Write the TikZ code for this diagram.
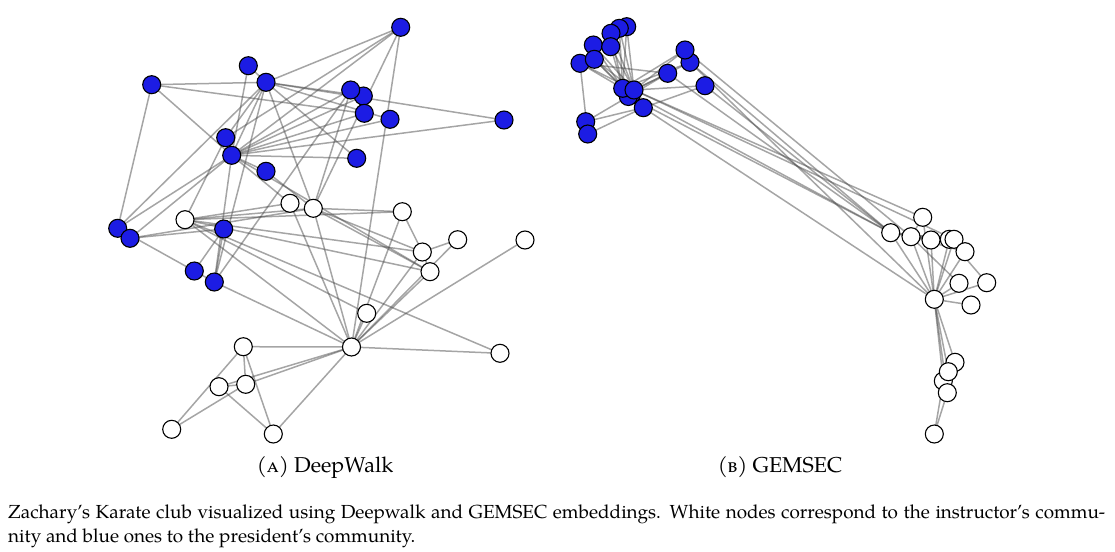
\documentclass[tikz,border=0pt]{standalone}
\usepackage{fontspec}
\setmainfont{TeX Gyre Pagella}
\usetikzlibrary{backgrounds}
\definecolor{nodeblue}{RGB}{28,28,228}
\begin{document}
\begin{tikzpicture}[x=1pt,y=-1pt,
  edge/.style={draw=black!70, line width=1.5pt, opacity=0.5},
  wn/.style={circle, draw=black, line width=1.1pt, fill=white, minimum size=18pt, inner sep=0pt},
  bn/.style={wn, fill=nodeblue},
  sublbl/.style={inner sep=0pt, font=\fontsize{21.5}{25}\selectfont},
  lbl/.style={inner sep=0pt, font=\fontsize{18.9}{23}\selectfont}]
\useasboundingbox (0,0) rectangle (1115,551);
% ---------- left graph (DeepWalk) ----------
\foreach \n/\x/\y in {1/351.5/347, 2/185/219.7, 3/313.3/208.3, 4/422.3/252, 5/219/386.7,
  6/243.3/346.7, 7/245.7/384.3, 8/402.3/211.7, 11/273.3/434, 12/525/240, 13/457.7/239.7,
  14/430/271.7, 17/171.7/429.3, 18/500/353.3, 20/290/203.3, 22/366.7/313.3}
  \node[wn] (L\n) at (\x,\y) {};
\foreach \n/\x/\y in {9/400.7/27.3, 10/266/171.3, 15/248.3/65.7, 16/363.3/96, 19/390/119.3,
  21/504/120, 23/356.7/158.3, 24/117.7/228.3, 25/223.7/229, 26/194.3/271, 27/364.3/113.3,
  28/130/238.3, 29/350.7/90, 30/151.7/84.7, 31/225.7/137.7, 32/214.3/282, 33/266/82.3, 34/231.7/155.3}
  \node[bn] (L\n) at (\x,\y) {};
% ---------- right graph (GEMSEC) ----------
\foreach \n/\x/\y in {1/934.3/299.3, 2/911/236.7, 3/890.7/232.7, 4/949.3/239.3, 5/955/362.3,
  6/943.3/381, 7/947.3/392.7, 8/931/240, 11/948.3/371.7, 12/971/305, 13/986.7/282.7,
  14/954/239.3, 17/934.3/434, 18/959/283.3, 20/922.7/217.3, 22/965/251.7}
  \node[wn] (R\n) at (\x,\y) {};
\foreach \n/\x/\y in {27/631/95, 10/628.3/96.5, 15/626.7/26.7, 16/619.3/28.3, 19/611/33.3,
  21/593.3/45, 23/610.7/46.7, 24/580/63.3, 30/594.3/59.3, 9/690/62.3, 31/685/50,
  28/667.7/73.3, 29/705/85.7, 32/643.3/107.7, 25/585.7/121.7, 26/587.7/134,
  33/622.7/88.3, 34/634/90}
  \node[bn] (R\n) at (\x,\y) {};
% ---------- edges ----------
\begin{pgfonlayer}{background}
\foreach \a/\b in {1/2,1/3,1/4,1/5,1/6,1/7,1/8,1/9,1/11,1/12,1/13,1/14,1/18,1/20,1/22,1/32,
  2/3,2/4,2/8,2/14,2/18,2/20,2/22,2/31,
  3/4,3/8,3/9,3/10,3/14,3/28,3/29,3/33,
  4/8,4/13,4/14, 5/7,5/11, 6/7,6/11,6/17, 7/17,
  9/31,9/33,9/34, 10/34, 14/34, 15/33,15/34, 16/33,16/34, 19/33,19/34, 20/34,
  21/33,21/34, 23/33,23/34, 24/26,24/28,24/30,24/33,24/34, 25/26,25/28,25/32, 26/32,
  27/30,27/34, 28/34, 29/32,29/34, 30/33,30/34, 31/33,31/34, 32/33,32/34, 33/34}
{
  \draw[edge] (L\a.center) -- (L\b.center);
  \draw[edge] (R\a.center) -- (R\b.center);
}
\end{pgfonlayer}
% ---------- captions ----------
\node[sublbl, anchor=base] (capA) at (325,472) {(\textsc{a}) DeepWalk};
\node[sublbl, anchor=base] (capB) at (780,472) {(\textsc{b}) GEMSEC};
\node[lbl, anchor=base west] (cap1) at (8,518) {\makebox[1097pt][s]{Zachary’s Karate club visualized using Deepwalk and GEMSEC embeddings. White nodes correspond to the instructor’s commu-}};
\node[lbl, anchor=base west] (cap2) at (8,542) {nity and blue ones to the president’s community.};
\end{tikzpicture}
\end{document}
